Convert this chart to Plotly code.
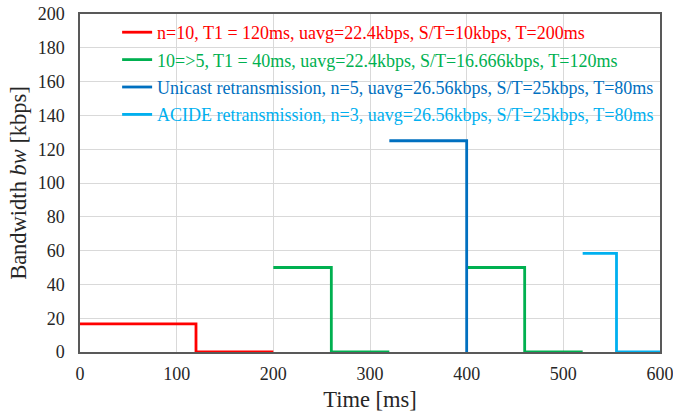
import plotly.graph_objects as go

# Step profiles of bandwidth over time for each scheme
names = [
    "n=10, T1 = 120ms, uavg=22.4kbps, S/T=10kbps, T=200ms",
    "10=>5, T1 = 40ms, uavg=22.4kbps, S/T=16.666kbps, T=120ms",
    "Unicast retransmission, n=5, uavg=26.56kbps, S/T=25kbps, T=80ms",
    "ACIDE retransmission, n=3, uavg=26.56kbps, S/T=25kbps, T=80ms",
]
colors = ["#FF0000", "#00B050", "#0070C0", "#00B0F0"]

red_t = [0, 120, 200]
red_bw = [16.7, 0, 0]

green_t = [200, 260, 320, None, 400, 460, 520]
green_bw = [50, 0, 0, None, 50, 0, 0]

unicast_t = [320, 400]
unicast_bw = [125, 0]

acide_t = [520, 555, 600]
acide_bw = [58.3, 0, 0]

series = [(red_t, red_bw), (green_t, green_bw), (unicast_t, unicast_bw), (acide_t, acide_bw)]

x_ticks = [0, 100, 200, 300, 400, 500, 600]
y_ticks = [0, 20, 40, 60, 80, 100, 120, 140, 160, 180, 200]

fig = go.Figure()
for i, ((t, bw), name, c) in enumerate(zip(series, names, colors)):
    fig.add_trace(go.Scatter(
        x=t, y=bw, mode="lines", line=dict(color=c, width=2.8, shape="hv"),
        name=f'<span style="color:{c}">{name}</span>',
        legendgroup=f"g{i}", connectgaps=False,
    ))

serif = "'Times New Roman', 'Liberation Serif', 'DejaVu Serif', serif"
fig.update_layout(
    width=673, height=416,
    margin=dict(l=80, r=13, t=14, b=64, autoexpand=False),
    plot_bgcolor="white", paper_bgcolor="white",
    font=dict(family=serif, size=18, color="#262626"),
    legend=dict(x=0.064, y=1.0, xanchor="left", yanchor="top",
                bgcolor="rgba(0,0,0,0)", font=dict(family=serif, size=18),
                tracegroupgap=1, itemwidth=30),
    showlegend=True,
)
fig.update_xaxes(
    range=[0, 600], tickvals=x_ticks, ticks="", showgrid=True, gridcolor="#D9D9D9",
    showline=True, linecolor="#595959", linewidth=1.5, mirror=True, zeroline=False,
    tickfont=dict(size=18, family=serif), automargin=False,
    ticklabelstandoff=5, ticklabeloverflow="allow",
    title=dict(text="Time [ms]", font=dict(size=22.5, family=serif), standoff=8),
)
fig.update_yaxes(
    range=[0, 200], tickvals=y_ticks, ticks="", showgrid=True, gridcolor="#D9D9D9",
    showline=True, linecolor="#595959", linewidth=1.5, mirror=True, zeroline=False,
    tickfont=dict(size=18, family=serif), automargin=False,
    ticklabelstandoff=10, ticklabeloverflow="allow",
    title=dict(text="Bandwidth <i>bw</i> [kbps]", font=dict(size=22.5, family=serif), standoff=5),
)

fig.write_html("out.html")
